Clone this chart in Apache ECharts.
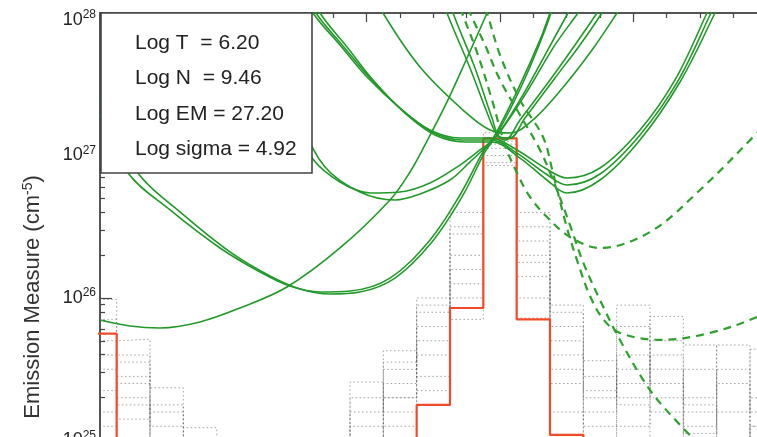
<!DOCTYPE html>
<html><head><meta charset="utf-8">
<script src="https://cdn.jsdelivr.net/npm/echarts@6/dist/echarts.min.js"></script>
<style>html,body{margin:0;padding:0;background:#fff}#c{width:757px;height:437px}</style>
</head><body><div id="c"></div>
<script>
// log T bin centres (histogram bin width 0.05)
const binCenters = [5.60,5.65,5.70,5.75,5.80,5.85,5.90,5.95,6.00,6.05,6.10,6.15,6.20,6.25,6.30,6.35,6.40,6.45,6.50,6.55,6.60];
// log EM of the best-fit DEM histogram (red); values below 25 fall off the plot
const redEM = [25.75,24.5,24.5,24.5,24.5,24.5,24.5,24.5,24.5,24.5,25.25,25.93,27.12,25.85,25.04,24.5,24.5,24.5,24.5,24.5,24.5];
// Monte-Carlo realisations (grey dotted)
const grayEM1 = [25.99,25.30,24.80,24.50,24.5,24.5,24.5,24.5,25.10,25.63,25.45,26.60,27.16,26.00,25.20,24.80,25.95,25.40,25.10,25.67,25.20];
const grayEM2 = [25.70,25.71,25.10,24.60,24.5,24.5,24.5,24.5,25.41,25.20,26.00,26.30,26.95,26.60,25.95,25.56,25.30,25.87,25.67,24.90,25.64];
const grayEM3 = [25.50,25.55,25.37,25.09,24.5,24.5,24.5,24.5,24.70,25.30,25.80,26.45,27.05,26.40,25.70,25.30,25.60,25.50,25.30,25.40,24.90];
const grayEM4 = [25.35,25.45,25.20,24.80,24.5,24.5,24.5,24.5,25.20,25.50,25.60,26.20,27.10,26.30,25.60,25.20,25.50,25.20,25.50,25.20,25.30];
const grayEM5 = [25.85,25.25,24.90,24.50,24.5,24.5,24.5,24.5,24.90,25.40,25.90,26.50,27.00,26.15,25.80,25.10,25.10,25.60,24.90,25.00,25.10];
const grayEM6 = [25.20,25.60,25.00,24.70,24.5,24.5,24.5,24.5,25.30,25.30,25.70,26.10,26.93,26.50,25.50,25.45,25.25,25.00,25.20,24.80,25.00];
const grayEM7 = [25.60,25.15,25.25,24.60,24.5,24.5,24.5,24.5,24.80,25.10,25.35,26.00,27.08,25.86,25.40,25.00,25.80,25.30,25.05,25.50,24.80];
const grayEM8 = [25.10,25.40,24.90,24.50,24.5,24.5,24.5,24.5,25.00,25.55,25.95,25.85,27.12,26.25,25.90,25.35,25.40,25.70,25.25,24.90,25.10];

// EM loci [log T, log EM] (solid green)
const locusS1 = [[5.600,27.284],[5.642,26.877],[5.705,26.618],[5.780,26.351],[5.840,26.183],[5.885,26.084],[5.930,26.042],[5.975,26.049],[6.035,26.140],[6.095,26.407],[6.140,26.723],[6.1745,27.025],[6.1925,27.144],[6.230,27.495],[6.260,27.811],[6.275,28.0],[6.290,28.196]];
const locusS2 = [[5.600,27.390],[5.657,26.877],[5.720,26.604],[5.795,26.323],[5.855,26.154],[5.900,26.063],[5.945,26.028],[5.990,26.042],[6.0425,26.140],[6.098,26.393],[6.143,26.709],[6.1775,27.025],[6.194,27.137],[6.233,27.495],[6.2675,27.881],[6.2825,28.091]];
const locusM  = [[5.600,25.846],[5.645,25.804],[5.690,25.790],[5.750,25.832],[5.810,25.930],[5.8805,26.077],[5.960,26.351],[6.035,26.688],[6.065,26.884],[6.0875,27.074],[6.1205,27.376],[6.1505,27.684],[6.1805,28.0],[6.1955,28.175]];
const locusN1 = [[5.825,28.0],[5.885,27.284],[5.918,26.982],[5.960,26.814],[6.005,26.737],[6.050,26.744],[6.095,26.807],[6.140,26.933],[6.170,27.039],[6.1925,27.123],[6.230,27.390],[6.2675,27.705],[6.302,28.0],[6.320,28.147]];
const locusN2 = [[5.855,27.811],[5.900,27.249],[5.9375,26.919],[5.990,26.744],[6.0425,26.688],[6.080,26.730],[6.125,26.828],[6.155,26.955],[6.185,27.088],[6.200,27.165],[6.2375,27.425],[6.2825,27.776],[6.317,28.0],[6.335,28.126]];
const locusO1 = [[5.900,28.196],[5.9195,28.0],[5.960,27.776],[6.0005,27.551],[6.050,27.333],[6.095,27.179],[6.140,27.123],[6.185,27.123],[6.2255,27.039],[6.2675,26.912],[6.3005,26.842],[6.350,26.912],[6.410,27.179],[6.4625,27.530],[6.5105,28.0],[6.5225,28.126]];
const locusO2 = [[5.9105,28.196],[5.930,28.0],[5.9705,27.762],[6.0095,27.530],[6.0575,27.298],[6.1025,27.144],[6.1475,27.095],[6.188,27.095],[6.230,26.982],[6.2705,26.828],[6.3005,26.737],[6.350,26.828],[6.410,27.109],[6.470,27.516],[6.5225,28.0],[6.5345,28.126]];
const locusO3 = [[5.9045,28.196],[5.924,28.0],[5.9645,27.769],[6.005,27.544],[6.053,27.319],[6.098,27.165],[6.143,27.109],[6.1865,27.109],[6.227,27.011],[6.269,26.870],[6.3005,26.793],[6.350,26.870],[6.410,27.144],[6.467,27.523],[6.5165,28.0],[6.525,28.08]];
const locusQ1 = [[6.110,28.161],[6.1205,28.0],[6.155,27.614],[6.182,27.284],[6.1955,27.144],[6.2075,27.109],[6.230,27.249],[6.275,27.530],[6.3125,27.776],[6.3455,28.0],[6.3575,28.091]];
const locusQ2 = [[6.119,28.161],[6.1295,28.0],[6.1625,27.614],[6.188,27.263],[6.200,27.130],[6.215,27.123],[6.2375,27.263],[6.2825,27.544],[6.320,27.776],[6.353,28.0],[6.365,28.091]];
const locusP  = [[6.005,28.196],[6.0245,28.0],[6.080,27.621],[6.1445,27.319],[6.185,27.179],[6.215,27.158],[6.2525,27.263],[6.2975,27.495],[6.338,27.740],[6.3755,28.0],[6.3905,28.112]];
// dashed green loci
const locusDA = [[6.1445,28.126],[6.155,28.0],[6.1775,27.776],[6.200,27.530],[6.230,27.284],[6.260,27.039],[6.2825,26.793],[6.305,26.512],[6.3245,26.253],[6.350,25.986],[6.380,25.705],[6.425,25.354],[6.470,25.109],[6.500,24.968]];
const locusDB = [[6.170,28.126],[6.1805,28.0],[6.200,27.705],[6.230,27.390],[6.2645,27.130],[6.2795,26.877],[6.3005,26.491],[6.320,26.203],[6.335,26.014],[6.3545,25.853],[6.380,25.755],[6.440,25.706],[6.515,25.755],[6.5855,25.867],[6.635,25.986]];
const locusDC = [[6.1325,28.126],[6.143,28.0],[6.167,27.705],[6.188,27.390],[6.2075,27.074],[6.227,26.863],[6.245,26.709],[6.2705,26.568],[6.305,26.428],[6.350,26.351],[6.425,26.463],[6.500,26.758],[6.5855,27.158],[6.635,27.404]];

const yTicks = [25,26,27,28];
const legendLines = ['Log T  = 6.20','Log N  = 9.46','Log EM = 27.20','Log sigma = 4.92'];

const FONT = '"Liberation Sans", Arial, Helvetica, sans-serif';
function stepData(vals){
  const d = vals.map((v,i)=>[+(binCenters[i]-0.025).toFixed(3), v]);
  d.push([+(binCenters[binCenters.length-1]+0.025).toFixed(3), vals[vals.length-1]]);
  return d;
}
const minorVals = [];
for (let d = yTicks[0]; d < yTicks[yTicks.length-1]; d++) for (let m = 2; m <= 9; m++) minorVals.push(d + Math.log10(m));

const series = [];
[grayEM1,grayEM2,grayEM3,grayEM4,grayEM5,grayEM6,grayEM7,grayEM8].forEach(g=>{
  series.push({type:'line', step:'end', data:stepData(g), symbol:'none', z:1, silent:true,
    lineStyle:{color:'#555', width:1, type:[1.5,2.5], opacity:0.55}});
});
series.push({type:'line', step:'end', data:stepData(redEM), symbol:'none', z:3,
  lineStyle:{color:'#f24a28', width:2.2}});
[locusS1,locusS2,locusM,locusN1,locusN2,locusO1,locusO2,locusO3,locusQ1,locusQ2,locusP].forEach(c=>{
  series.push({type:'line', data:c, smooth:0.35, symbol:'none', z:4,
    lineStyle:{color:'#22992a', width:1.6}});
});
[locusDA,locusDB,locusDC].forEach(c=>{
  series.push({type:'line', data:c, smooth:0.35, symbol:'none', z:4,
    lineStyle:{color:'#2ea02e', width:2.2, type:[8,6]}});
});

const chart = echarts.init(document.getElementById('c'), null, {renderer:'canvas'});
chart.setOption({
  animation:false,
  backgroundColor:'#fff',
  grid:{left:100, top:13, right:-143, bottom:-3.5, containLabel:false, outerBoundsMode:'none'},
  xAxis:[
    {type:'value', min:5.6, max:6.8, interval:0.2, position:'bottom', show:false},
    {type:'value', min:5.6, max:6.8, interval:0.2, position:'top',
      axisLine:{show:true, lineStyle:{color:'#555', width:2}},
      axisTick:{show:true, inside:true, length:9, lineStyle:{color:'#444', width:1.2}},
      minorTick:{show:true, splitNumber:4, length:5, lineStyle:{color:'#444', width:1.2}},
      axisLabel:{show:false}, splitLine:{show:false}}
  ],
  yAxis:[
    {type:'value', min:yTicks[0], max:yTicks[yTicks.length-1], interval:1, position:'left',
      axisLine:{show:true, lineStyle:{color:'#555', width:2}},
      axisTick:{show:true, inside:true, length:12, lineStyle:{color:'#444', width:1.2}},
      splitLine:{show:false},
      axisLabel:{show:true, margin:4, color:'#222',
        formatter:v=> v === yTicks[yTicks.length-1] ? '{bt|10}{st|'+v+'}' : '{b|10}{s|'+v+'}',
        rich:{b:{fontFamily:FONT, fontSize:18, color:'#222'},
              s:{fontFamily:FONT, fontSize:12, color:'#222', padding:[0,0,10,0]},
              bt:{fontFamily:FONT, fontSize:18, color:'#222', padding:[14,0,0,0]},
              st:{fontFamily:FONT, fontSize:12, color:'#222', padding:[14,0,10,0]}}}},
    {type:'value', min:yTicks[0], max:yTicks[yTicks.length-1], position:'left',
      axisLine:{show:false}, axisLabel:{show:false}, splitLine:{show:false},
      axisTick:{show:true, inside:true, length:5, customValues:minorVals, lineStyle:{color:'#444', width:1.2}}}
  ],
  series: series,
  graphic:[
    {type:'rect', z:100, shape:{x:101, y:13, width:211, height:160},
      style:{fill:'#fff', stroke:'#444', lineWidth:1.6}},
    ...legendLines.map((t,i)=>({type:'text', z:101, x:135, y:43+i*35.5,
      style:{text:t, font:'21px '+FONT, fill:'#222', textVerticalAlign:'middle', textAlign:'left'}})),
    {type:'text', z:101, x:33, y:297, rotation:Math.PI/2,
      style:{text:'{a|Emission Measure (cm}{b|-5}{a|)}', textAlign:'center', textVerticalAlign:'middle',
        rich:{a:{fontFamily:FONT, fontSize:22, fill:'#333'}, b:{fontFamily:FONT, fontSize:14, fill:'#333', padding:[0,0,10,0]}}}}
  ]
});
</script></body></html>
